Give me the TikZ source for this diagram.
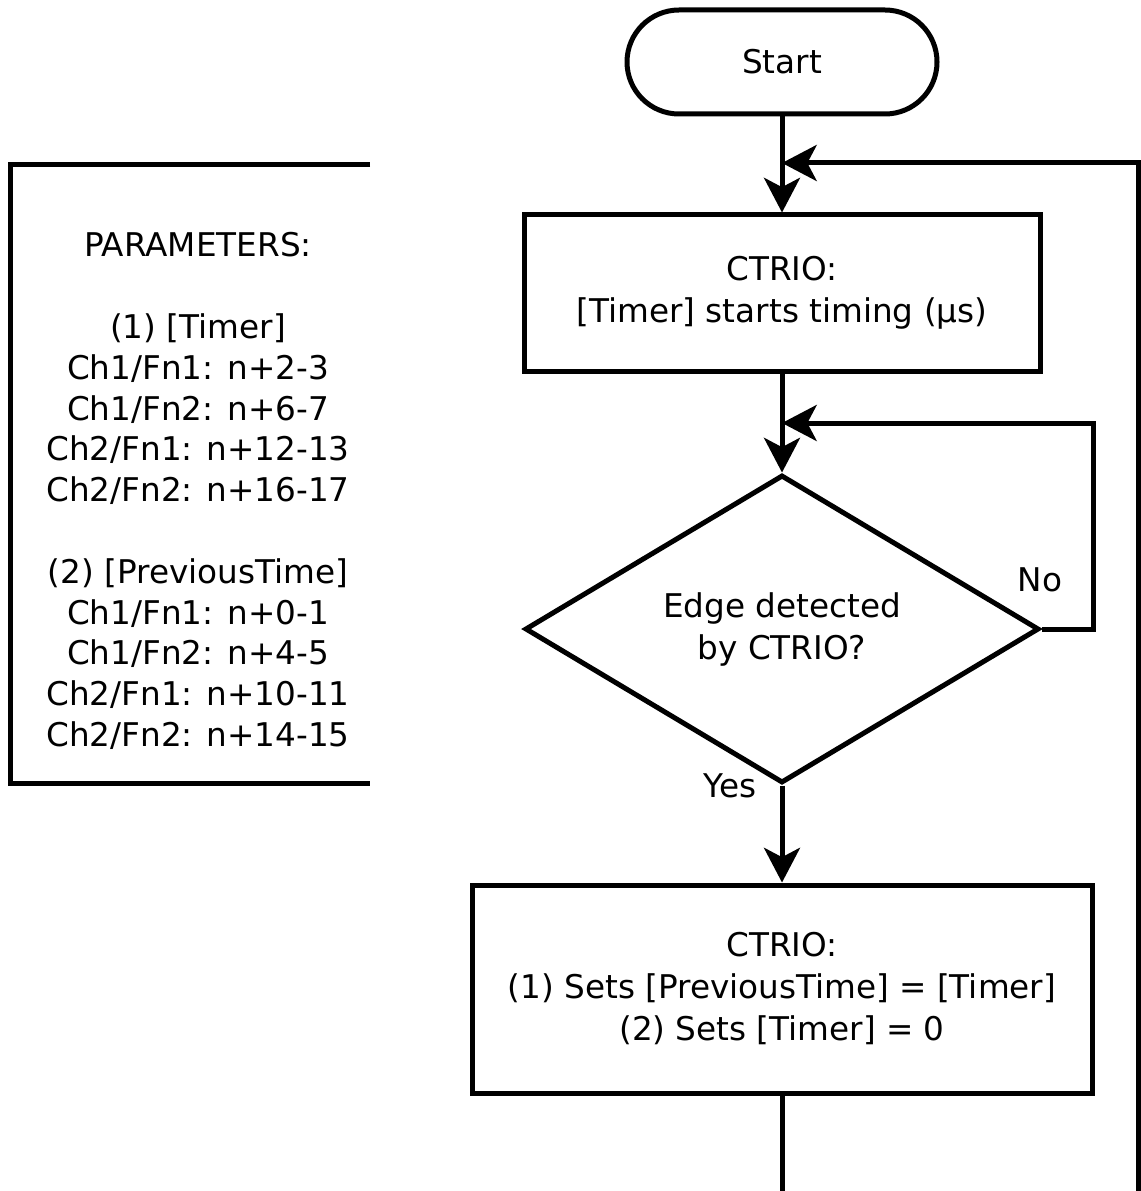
\documentclass[tikz,border=0pt]{standalone}
\usepackage{fontspec}
\setmainfont{DejaVu Sans}
\usetikzlibrary{arrows.meta,shapes.geometric}
\begin{document}
\begin{tikzpicture}[x=0.75pt,y=-0.75pt,
  every node/.style={font=\fontsize{24.5}{31.5}\selectfont, align=center},
  ln/.style={line width=3.75pt},
  arr/.style={ln,-{Stealth[length=26pt,width=27pt,inset=7pt]}},
  boxnode/.style={draw,ln,rectangle,inner sep=0pt},
  termnode/.style={draw,ln,rectangle,rounded corners=39pt,inner sep=0pt,minimum width=310*0.75pt,minimum height=104*0.75pt},
  decnode/.style={draw,ln,diamond,aspect=1.67,inner sep=0pt,minimum width=514*0.75pt,minimum height=308*0.75pt},
  lbl/.style={inner sep=0pt}
]
\useasboundingbox (0,0) rectangle (1141,1191);
\node[termnode] (start) at (782,62) {Start};
\node[boxnode,minimum width=516*0.75pt,minimum height=156*0.75pt] (b1) at (782,293) {CTRIO:\\{}[Timer] starts timing (µs)};
\node[decnode] (dia) at (782,629) {Edge detected\\by CTRIO?};
\node[boxnode,minimum width=620*0.75pt,minimum height=208*0.75pt] (b2) at (782,989) {CTRIO:\\(1) Sets [PreviousTime] = [Timer]\\(2) Sets [Timer] = 0};
\node[lbl] (no) at (1040,580) {No};
\node[lbl] (yes) at (730,786) {Yes};
\coordinate (j1) at (782,163);
\coordinate (j2) at (782,423);
\coordinate (botL) at (782,1196);
\coordinate (botR) at (1138,1196);
\draw[arr] (start.south) -- (b1.north);
\draw[arr] (b1.south) -- (dia.north);
\draw[arr] (dia.south) -- (b2.north);
\draw[ln] (b2.south) -- (botL);
\draw[arr] (botR) |- (j1);
\draw[arr] (dia.east) -- ++(52,0) |- (j2);
% annotation
\coordinate (a1) at (370,165);
\coordinate (a2) at (10,783);
\coordinate (a3) at (370,783);
\draw[ln] (a1) -| (a2) -- (a3);
\node[lbl,font=\fontsize{24.5}{30.6}\selectfont] (params) at (198,491) {PARAMETERS:\\[30.6pt]
(1) [Timer]\\Ch1/Fn1: n+2-3\\Ch1/Fn2: n+6-7\\Ch2/Fn1: n+12-13\\Ch2/Fn2: n+16-17\\[30.6pt]
(2) [PreviousTime]\\Ch1/Fn1: n+0-1\\Ch1/Fn2: n+4-5\\Ch2/Fn1: n+10-11\\Ch2/Fn2: n+14-15};
\end{tikzpicture}
\end{document}
